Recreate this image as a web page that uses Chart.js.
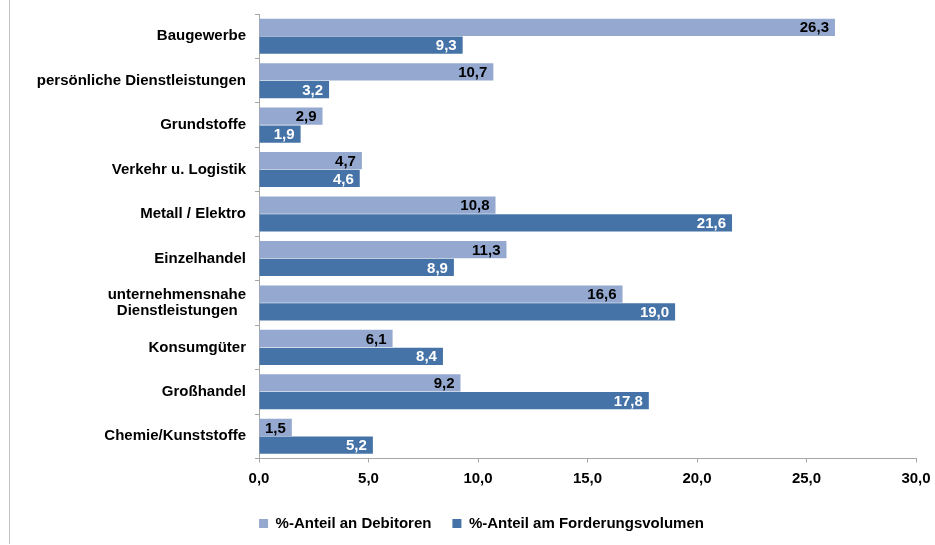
<!DOCTYPE html>
<html>
<head>
<meta charset="utf-8">
<script src="https://cdn.jsdelivr.net/npm/chart.js@4/dist/chart.umd.min.js"></script>
<style>
  html, body { margin: 0; padding: 0; background: #fff; }
  #wrap { position: relative; width: 935px; height: 545px; }
  #edge { position: absolute; left: 9px; top: 0; width: 1px; height: 544px; background: #c4c4c4; }
</style>
</head>
<body>
<div id="wrap">
  <div id="edge"></div>
  <canvas id="chart" width="935" height="545"></canvas>
</div>
<script>
// Branchen (top to bottom)
const categories = [
    "Baugewerbe",
    "persönliche Dienstleistungen",
    "Grundstoffe",
    "Verkehr u. Logistik",
    "Metall / Elektro",
    "Einzelhandel",
    ["unternehmensnahe", "Dienstleistungen  "],
    "Konsumgüter",
    "Großhandel",
    "Chemie/Kunststoffe"
];

const debitoren = [26.3, 10.7, 2.9, 4.7, 10.8, 11.3, 16.6, 6.1, 9.2, 1.5];
const forderungsvolumen = [9.3, 3.2, 1.9, 4.6, 21.6, 8.9, 19.0, 8.4, 17.8, 5.2];

const seriesNames = ["%-Anteil an Debitoren", "%-Anteil am Forderungsvolumen"];
const xTicks = [0, 5, 10, 15, 20, 25, 30];

const fmt = (v) => v.toFixed(1).replace(".", ",");
const labelFont = { family: "Liberation Sans, Arial, sans-serif", size: 15, weight: "bold", lineHeight: 1.1 };

// value labels at the inner end of each bar
const barLabels = {
    id: "barLabels",
    afterDatasetsDraw(chart) {
        const ctx = chart.ctx;
        ctx.save();
        ctx.font = "bold 15px Liberation Sans, Arial, sans-serif";
        ctx.textAlign = "right";
        ctx.textBaseline = "middle";
        chart.data.datasets.forEach((ds, i) => {
            ctx.fillStyle = i === 0 ? "#000" : "#fff";
            chart.getDatasetMeta(i).data.forEach((bar, j) => {
                ctx.fillText(fmt(ds.data[j]), bar.x - 6, bar.y + 1);
            });
        });
        ctx.restore();
    }
};

new Chart(document.getElementById("chart").getContext("2d"), {
    type: "bar",
    data: {
        labels: categories,
        datasets: [
            { label: seriesNames[0], data: debitoren, backgroundColor: "#95a9d0" },
            { label: seriesNames[1], data: forderungsvolumen, backgroundColor: "#4573a7" }
        ]
    },
    options: {
        indexAxis: "y",
        responsive: false,
        animation: false,
        categoryPercentage: 0.8,
        barPercentage: 0.97,
        layout: { padding: { left: 28, right: 0, top: 14, bottom: 4 } },
        plugins: {
            tooltip: { enabled: false },
            legend: {
                position: "bottom",
                labels: {
                    boxWidth: 9,
                    boxHeight: 9,
                    color: "#000",
                    font: labelFont,
                    padding: 21
                }
            }
        },
        scales: {
            x: {
                min: 0,
                max: 30,
                afterBuildTicks(scale) {
                    scale.ticks = xTicks.map((v) => ({ value: v }));
                },
                afterFit(scale) { scale.paddingRight = 19; },
                ticks: {
                    color: "#000",
                    font: labelFont,
                    padding: 8,
                    callback: (v) => fmt(v)
                },
                grid: { drawOnChartArea: false, tickLength: 4, color: "#a6a6a6" },
                border: { color: "#a6a6a6" }
            },
            y: {
                afterFit(scale) {
                    scale.width = 231;
                    scale.paddingTop = 0;
                    scale.paddingBottom = 0;
                },
                ticks: {
                    color: "#000",
                    font: labelFont,
                    padding: 9
                },
                grid: { drawOnChartArea: false, tickLength: 4, offset: true, color: "#a6a6a6" },
                border: { color: "#a6a6a6" }
            }
        }
    },
    plugins: [barLabels]
});
</script>
</body>
</html>
